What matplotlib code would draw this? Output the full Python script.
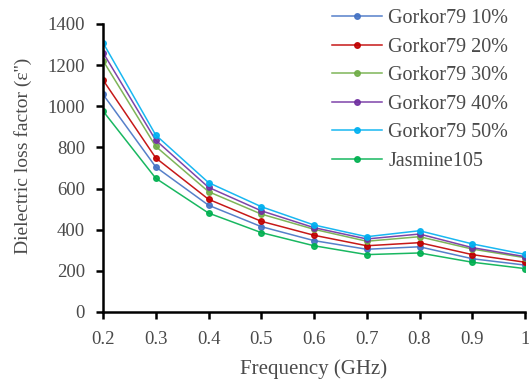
import matplotlib.pyplot as plt

plt.rcParams['font.family'] = ['Liberation Serif', 'DejaVu Serif']

freq = [0.2, 0.3, 0.4, 0.5, 0.6, 0.7, 0.8, 0.9, 1.0]
g10 = [1058, 705, 519, 415, 347, 305, 317, 259, 228]
g20 = [1128, 749, 548, 441, 373, 322, 337, 279, 242]
g30 = [1222, 805, 585, 476, 402, 344, 366, 306, 264]
g40 = [1261, 835, 606, 492, 410, 355, 379, 313, 269]
g50 = [1309, 860, 629, 512, 423, 366, 395, 331, 280]
jasmine = [977, 650, 481, 386, 322, 279, 287, 242, 211]

series = [
    ("Gorkor79 10%", g10, "#4472C4"),
    ("Gorkor79 20%", g20, "#C00000"),
    ("Gorkor79 30%", g30, "#70AD47"),
    ("Gorkor79 40%", g40, "#7030A0"),
    ("Gorkor79 50%", g50, "#00B0F0"),
    ("Jasmine105", jasmine, "#00B050"),
]
text_color = "#4a4a4a"

fig = plt.figure(figsize=(5.29, 3.83), dpi=100)
ax = fig.add_axes([103 / 529, 1 - 312 / 383, 422 / 529, 288 / 383])

for label, vals, color in series:
    ax.plot(freq, vals, color=color, marker="o", markersize=4, linewidth=1.1,
            alpha=0.9, label=label)

ax.set_xlim(0.2, 1.0)
ax.set_ylim(0, 1400)
ax.set_xticks(freq)
ax.set_xticklabels(["0.2", "0.3", "0.4", "0.5", "0.6", "0.7", "0.8", "0.9", "1"])
ax.set_yticks(range(0, 1401, 200))
ax.spines["top"].set_visible(False)
ax.spines["right"].set_visible(False)
ax.spines["left"].set_linewidth(1.8)
ax.spines["bottom"].set_linewidth(1.8)
ax.tick_params(direction="out", length=5, width=1.8, labelsize=13.5,
               labelcolor=text_color)
ax.tick_params(axis="x", pad=9)
ax.tick_params(axis="y", pad=8)

ax.set_xlabel("Frequency (GHz)", fontsize=15, color=text_color)
ax.xaxis.set_label_coords(0.5, -0.163)
ax.set_ylabel("Dielectric loss factor (ε'')", fontsize=14, color=text_color)
ax.yaxis.set_label_coords(-0.168, 0.542)

ax.legend(loc="upper left", bbox_to_anchor=((332 - 103) / 422, (312 - 9) / 288),
          frameon=False, fontsize=14.5, borderpad=0, borderaxespad=0,
          handlelength=2.5, labelspacing=0.47, handletextpad=0.3,
          labelcolor=text_color)

fig.savefig("out.png", dpi=100)
